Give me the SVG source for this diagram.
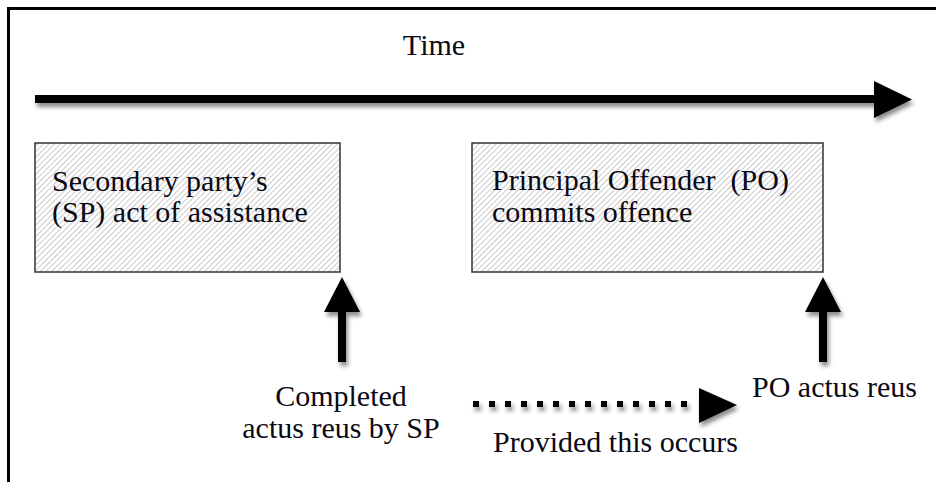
<svg xmlns="http://www.w3.org/2000/svg" width="936" height="482" viewBox="0 0 936 482">
<defs>
<pattern id="hatch" patternUnits="userSpaceOnUse" width="4" height="4" patternTransform="rotate(45)">
<rect width="4" height="4" fill="#ffffff"/>
<line x1="0" y1="0" x2="0" y2="4" stroke="#a6a6a6" stroke-width="1.2"/>
</pattern>
<filter id="shadow" x="-20%" y="-20%" width="140%" height="160%">
<feDropShadow dx="2" dy="4" stdDeviation="2" flood-color="#000" flood-opacity="0.45"/>
</filter>
</defs>
<style>
text{font-family:"Liberation Serif","Times New Roman",serif;font-size:30px;fill:#0a0a14;}
.box{fill:url(#hatch);stroke:#333333;stroke-width:1.5;}
.shaft{stroke:#000;stroke-width:8;fill:none;}
.head{fill:#000;}
</style>
<rect width="936" height="482" fill="#ffffff"/>
<path d="M8.5,482 L8.5,8.5 L936,8.5" fill="none" stroke="#000" stroke-width="3"/>

<g id="time-label">
<text x="434" y="55" text-anchor="middle">Time</text>
</g>

<g id="sp-box">
<rect class="box" x="35" y="143" width="305" height="129"/>
<text x="52" y="191">Secondary party’s</text>
<text x="52" y="222">(SP) act of assistance</text>
</g>

<g id="po-box">
<rect class="box" x="472" y="143" width="351" height="129"/>
<text x="492" y="190" xml:space="preserve">Principal Offender  (PO)</text>
<text x="492" y="222">commits offence</text>
</g>

<g id="sp-label">
<text x="341" y="406" text-anchor="middle">Completed</text>
<text x="341" y="438" text-anchor="middle">actus reus by SP</text>
</g>

<g id="po-label">
<text x="752" y="397">PO actus reus</text>
</g>

<g id="condition-label">
<text x="493" y="452">Provided this occurs</text>
</g>

<g id="connectors">
<g filter="url(#shadow)">
<line class="shaft" x1="35" y1="99" x2="876" y2="99"/>
<polygon class="head" points="874,81 912,99.5 874,118"/>
</g>
<g filter="url(#shadow)">
<line class="shaft" x1="342" y1="362" x2="342" y2="310"/>
<polygon class="head" points="342,277 360,312 324,312"/>
</g>
<g filter="url(#shadow)">
<line class="shaft" x1="823" y1="362" x2="823" y2="310"/>
<polygon class="head" points="823,277 841,312 805,312"/>
</g>
<g filter="url(#shadow)">
<line x1="473" y1="404" x2="696" y2="404" stroke="#000" stroke-width="6" stroke-dasharray="6 10"/>
<polygon class="head" points="699,388 737,405 699,423"/>
</g>
</g>
</svg>
